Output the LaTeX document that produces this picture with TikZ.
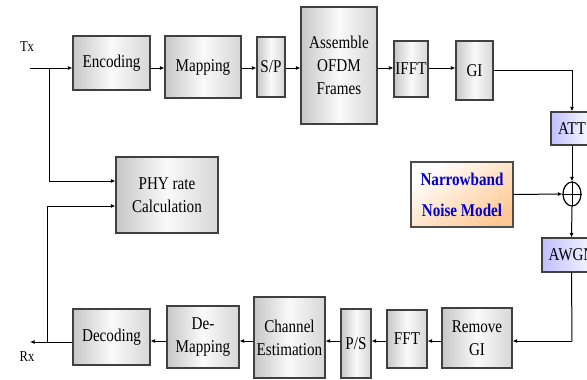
\documentclass[tikz,border=0pt]{standalone}
\usepackage{fontspec}
\setmainfont[FakeStretch=0.84]{Liberation Serif}
\usetikzlibrary{arrows.meta,shapes.geometric}
\begin{document}
\begin{tikzpicture}[x=1pt,y=-1pt,
  font=\fontsize{18}{23}\selectfont,
  blk/.style={draw=black!75, line width=1.1pt, rectangle, inner sep=0pt, align=center,
     left color=black!22, right color=black!16, middle color=black!2},
  chan/.style={draw=black!75, line width=1.1pt, rectangle, inner sep=0pt, align=center,
     left color=blue!25, right color=white},
  noise/.style={draw=black!70, line width=1.1pt, rectangle, inner sep=0pt, align=center,
     shading=axis, top color=white, bottom color=orange!42, shading angle=35,
     text=blue!80!black, font=\fontsize{18}{31}\selectfont\bfseries},
  lbl/.style={font=\fontsize{15}{18}\selectfont, inner sep=0pt},
  arr/.style={line width=1pt, -{Latex[length=4.5pt,width=4pt]}},
  ln/.style={line width=1pt}]
\useasboundingbox (0,0) rectangle (587,380);
\clip (0,0) rectangle (587,380);

% top row
\node[blk, minimum width=77pt, minimum height=54pt] (enc) at (111.5,63) {Encoding};
\node[blk, minimum width=76pt, minimum height=62pt] (map) at (203,67) {Mapping};
\node[blk, minimum width=28pt, minimum height=60pt] (sp) at (271,67) {S/P};
\node[blk, minimum width=76pt, minimum height=117pt] (asm) at (339,65.5) {Assemble\\OFDM\\Frames};
\node[blk, minimum width=34pt, minimum height=56pt] (ifft) at (411,69) {IFFT};
\node[blk, minimum width=37pt, minimum height=59pt] (gi) at (474.5,70.5) {GI};

% channel
\node[chan, minimum width=42pt, minimum height=33pt] (att) at (572,128.5) {ATT};
\node[draw, line width=1.2pt, ellipse, minimum width=18pt, minimum height=24pt, inner sep=0pt] (sum) at (572,194) {};
\draw[line width=1pt] (sum.north) -- (sum.south) (sum.west) -- (sum.east);
\node[noise, minimum width=102pt, minimum height=65pt] (nb) at (462,194.5) {Narrowband\\Noise Model};
\node[chan, minimum width=59pt, minimum height=34pt] (awgn) at (571.5,255) {AWGN};

% bottom row
\node[blk, minimum width=70pt, minimum height=60pt] (rgi) at (477,338) {Remove\\GI};
\node[blk, minimum width=40pt, minimum height=58pt] (fft) at (407,339) {FFT};
\node[blk, minimum width=30pt, minimum height=69pt] (ps) at (356,343.5) {P/S};
\node[blk, minimum width=71pt, minimum height=81pt] (che) at (289.5,337.5) {Channel\\Estimation};
\node[blk, minimum width=72pt, minimum height=62pt] (dem) at (203,337) {De-\\Mapping};
\node[blk, minimum width=77pt, minimum height=56pt] (dec) at (111.5,337) {Decoding};
\node[blk, minimum width=102pt, minimum height=76pt] (phy) at (167,195) {PHY rate\\Calculation};

% labels
\node[lbl] (tx) at (27,47) {Tx};
\node[lbl] (rx) at (27,357) {Rx};

% coordinates
\coordinate (txs) at (30,68);
\coordinate (rxe) at (30,342);
\coordinate (r1) at (0,68);
\coordinate (r3) at (0,341);
\coordinate (bt) at (49,68);
\coordinate (br) at (47,342);
\coordinate (p1) at (0,181);
\coordinate (p2) at (0,206);
\coordinate (giout) at (572,70);
\coordinate (awout) at (572,341);

% top connectors
\draw[ln] (txs) -- (bt);
\draw[arr] (bt) -- (enc.west |- r1);
\draw[arr] (enc.east |- r1) -- (map.west |- r1);
\draw[arr] (map.east |- r1) -- (sp.west |- r1);
\draw[arr] (sp.east |- r1) -- (asm.west |- r1);
\draw[arr] (asm.east |- r1) -- (ifft.west |- r1);
\draw[arr] (ifft.east |- r1) -- (gi.west |- r1);
\draw[ln] (gi.east |- giout) -- (giout);
\draw[arr] (giout) -- (att.north);
\draw[arr] (att.south) -- (sum.north);
\draw[arr] (nb.east) -- (sum.west);
\draw[arr] (sum.south) -- (awgn.north);
\draw[ln] (awgn.south) -- (awout);
\draw[arr] (awout) -- (rgi.east |- r3);
\draw[arr] (rgi.west |- r3) -- (fft.east |- r3);
\draw[arr] (fft.west |- r3) -- (ps.east |- r3);
\draw[arr] (ps.west |- r3) -- (che.east |- r3);
\draw[arr] (che.west |- r3) -- (dem.east |- r3);
\draw[arr] (dem.west |- r3) -- (dec.east |- r3);
\draw[arr] (dec.west |- rxe) -- (rxe);

% PHY connectors
\draw[arr] (bt) |- (phy.west |- p1);
\draw[arr] (br) |- (phy.west |- p2);
\end{tikzpicture}
\end{document}
